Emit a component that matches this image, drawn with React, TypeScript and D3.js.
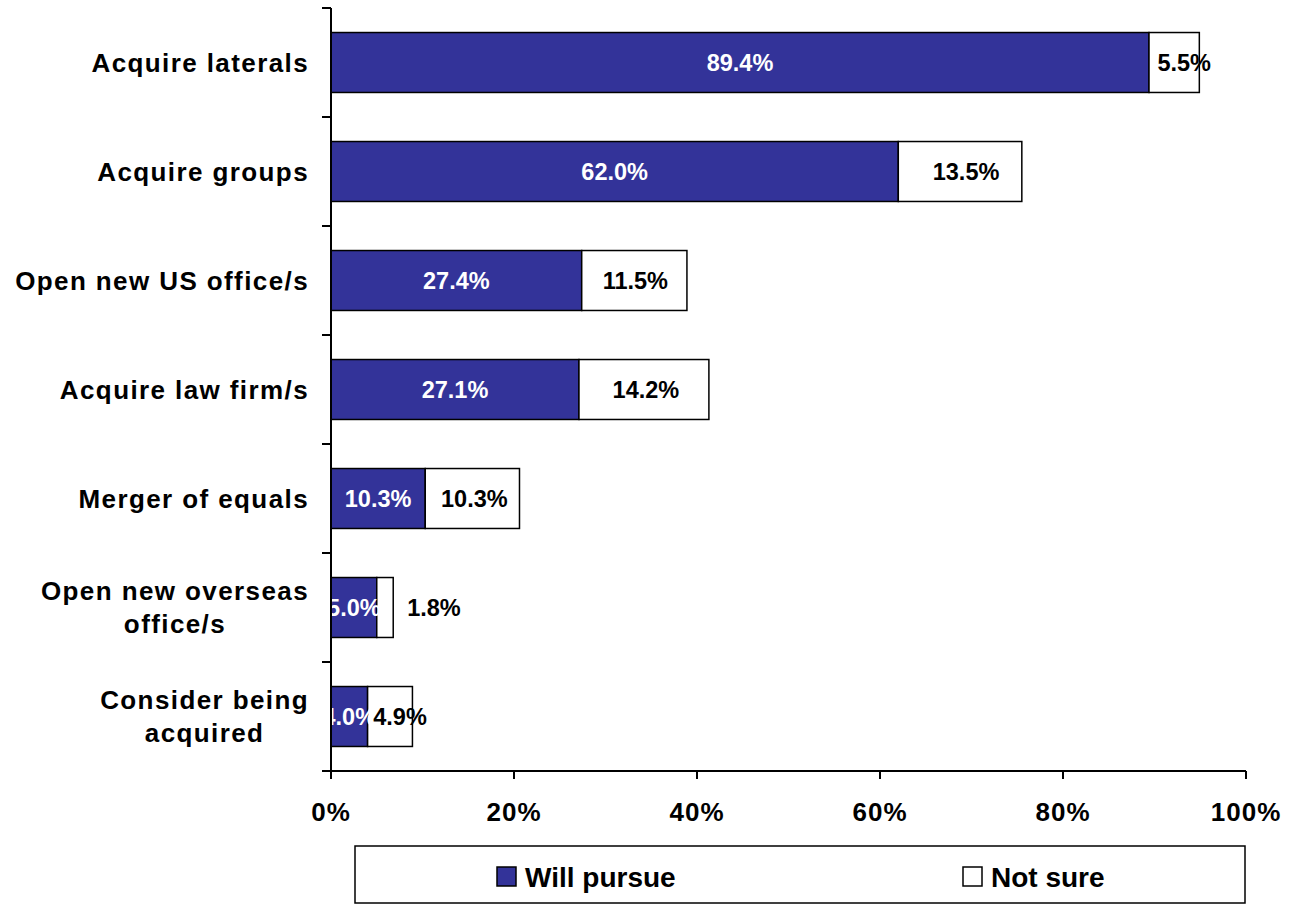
import React, { useEffect, useRef } from "react";
import * as d3 from "d3";

const categories: string[][] = [
  ["Acquire laterals"],
  ["Acquire groups"],
  ["Open new US office/s"],
  ["Acquire law firm/s"],
  ["Merger of equals"],
  ["Open new overseas", "office/s"],
  ["Consider being", "acquired"],
];
const willPursue = [89.4, 62.0, 27.4, 27.1, 10.3, 5.0, 4.0];
const notSure = [5.5, 13.5, 11.5, 14.2, 10.3, 1.8, 4.9];
const xTicks = [0, 20, 40, 60, 80, 100];
const seriesNames = ["Will pursue", "Not sure"];
const seriesColors = ["#333399", "#ffffff"];
// horizontal nudge (px) of the "Not sure" labels, as placed in the original
const notSureNudge = [10, 6, 1, 2, 2, 49, 10];

const W = 1296;
const H = 905;
const FONT = "'Liberation Sans', Arial, sans-serif";

export default function App() {
  const ref = useRef<SVGSVGElement | null>(null);
  useEffect(() => {
    const svg = d3.select(ref.current);
    svg.selectAll("*").remove();
    const x = d3.scaleLinear().domain([0, 100]).range([331, 1246]);
    const keys = categories.map((c) => c.join(" "));
    const y = d3
      .scaleBand<string>()
      .domain(keys)
      .range([8, 771])
      .paddingInner(0.45)
      .paddingOuter(0.225);
    const step = y.step();
    const top = 8;

    const g = svg.append("g");

    // bars
    keys.forEach((k, i) => {
      const by = y(k)!;
      const bh = y.bandwidth();
      g.append("rect")
        .attr("x", x(0))
        .attr("y", by)
        .attr("width", x(willPursue[i]) - x(0))
        .attr("height", bh)
        .attr("fill", seriesColors[0])
        .attr("stroke", "#000")
        .attr("stroke-width", 1.5);
      g.append("rect")
        .attr("x", x(willPursue[i]))
        .attr("y", by)
        .attr("width", x(willPursue[i] + notSure[i]) - x(willPursue[i]))
        .attr("height", bh)
        .attr("fill", seriesColors[1])
        .attr("stroke", "#000")
        .attr("stroke-width", 1.5);
      const cy = by + bh / 2;
      g.append("text")
        .attr("x", (x(0) + x(willPursue[i])) / 2)
        .attr("y", cy)
        .attr("dy", "0.36em")
        .attr("text-anchor", "middle")
        .attr("fill", "#fff")
        .attr("font-family", FONT)
        .attr("font-weight", "bold")
        .attr("font-size", 23.5)
        .text(willPursue[i].toFixed(1) + "%");
      g.append("text")
        .attr(
          "x",
          (x(willPursue[i]) + x(willPursue[i] + notSure[i])) / 2 + notSureNudge[i]
        )
        .attr("y", cy)
        .attr("dy", "0.36em")
        .attr("text-anchor", "middle")
        .attr("fill", "#000")
        .attr("font-family", FONT)
        .attr("font-weight", "bold")
        .attr("font-size", 23.5)
        .text(notSure[i].toFixed(1) + "%");
    });

    // y axis
    g.append("line")
      .attr("x1", 331)
      .attr("x2", 331)
      .attr("y1", top)
      .attr("y2", 779)
      .attr("stroke", "#000")
      .attr("stroke-width", 2);
    for (let i = 0; i <= keys.length; i++) {
      const ty = top + i * step;
      g.append("line")
        .attr("x1", 322)
        .attr("x2", 331)
        .attr("y1", ty)
        .attr("y2", ty)
        .attr("stroke", "#000")
        .attr("stroke-width", 2);
    }
    // x axis
    g.append("line")
      .attr("x1", 322)
      .attr("x2", x(100))
      .attr("y1", 771)
      .attr("y2", 771)
      .attr("stroke", "#000")
      .attr("stroke-width", 2);
    xTicks.forEach((t) => {
      g.append("line")
        .attr("x1", x(t))
        .attr("x2", x(t))
        .attr("y1", 771)
        .attr("y2", 779)
        .attr("stroke", "#000")
        .attr("stroke-width", 2);
      g.append("text")
        .attr("x", x(t))
        .attr("y", 821)
        .attr("text-anchor", "middle")
        .attr("font-family", FONT)
        .attr("font-weight", "bold")
        .attr("font-size", 26)
        .attr("letter-spacing", 1)
        .text(t + "%");
    });

    // category labels
    const rightEdge = 309;
    keys.forEach((k, i) => {
      const lines = categories[i];
      const cy = y(k)! + y.bandwidth() / 2;
      const lh = 33;
      const texts = lines.map((ln, j) =>
        g
          .append("text")
          .attr("y", cy + (j - (lines.length - 1) / 2) * lh)
          .attr("dy", "0.36em")
          .attr("text-anchor", "middle")
          .attr("font-family", FONT)
          .attr("font-weight", "bold")
          .attr("font-size", 26)
          .attr("letter-spacing", 1.4)
          .text(ln)
      );
      const widths = texts.map((t) => (t.node() as SVGTextElement).getComputedTextLength());
      const maxW = d3.max(widths)!;
      texts.forEach((t) => t.attr("x", rightEdge - maxW / 2));
    });

    // legend
    const lg = svg.append("g");
    lg.append("rect")
      .attr("x", 355)
      .attr("y", 846)
      .attr("width", 890)
      .attr("height", 57)
      .attr("fill", "#fff")
      .attr("stroke", "#000")
      .attr("stroke-width", 1.5);
    const legendX = [497, 963];
    seriesNames.forEach((n, i) => {
      lg.append("rect")
        .attr("x", legendX[i])
        .attr("y", 867)
        .attr("width", 19)
        .attr("height", 19)
        .attr("fill", seriesColors[i])
        .attr("stroke", "#000")
        .attr("stroke-width", 1.5);
      lg.append("text")
        .attr("x", legendX[i] + 28)
        .attr("y", 876.5)
        .attr("dy", "0.36em")
        .attr("font-family", FONT)
        .attr("font-weight", "bold")
        .attr("font-size", 28)
        .text(n);
    });
  }, []);
  return (
    <svg
      ref={ref}
      width={W}
      height={H}
      style={{ position: "absolute", left: 0, top: 0, background: "#fff" }}
    />
  );
}
